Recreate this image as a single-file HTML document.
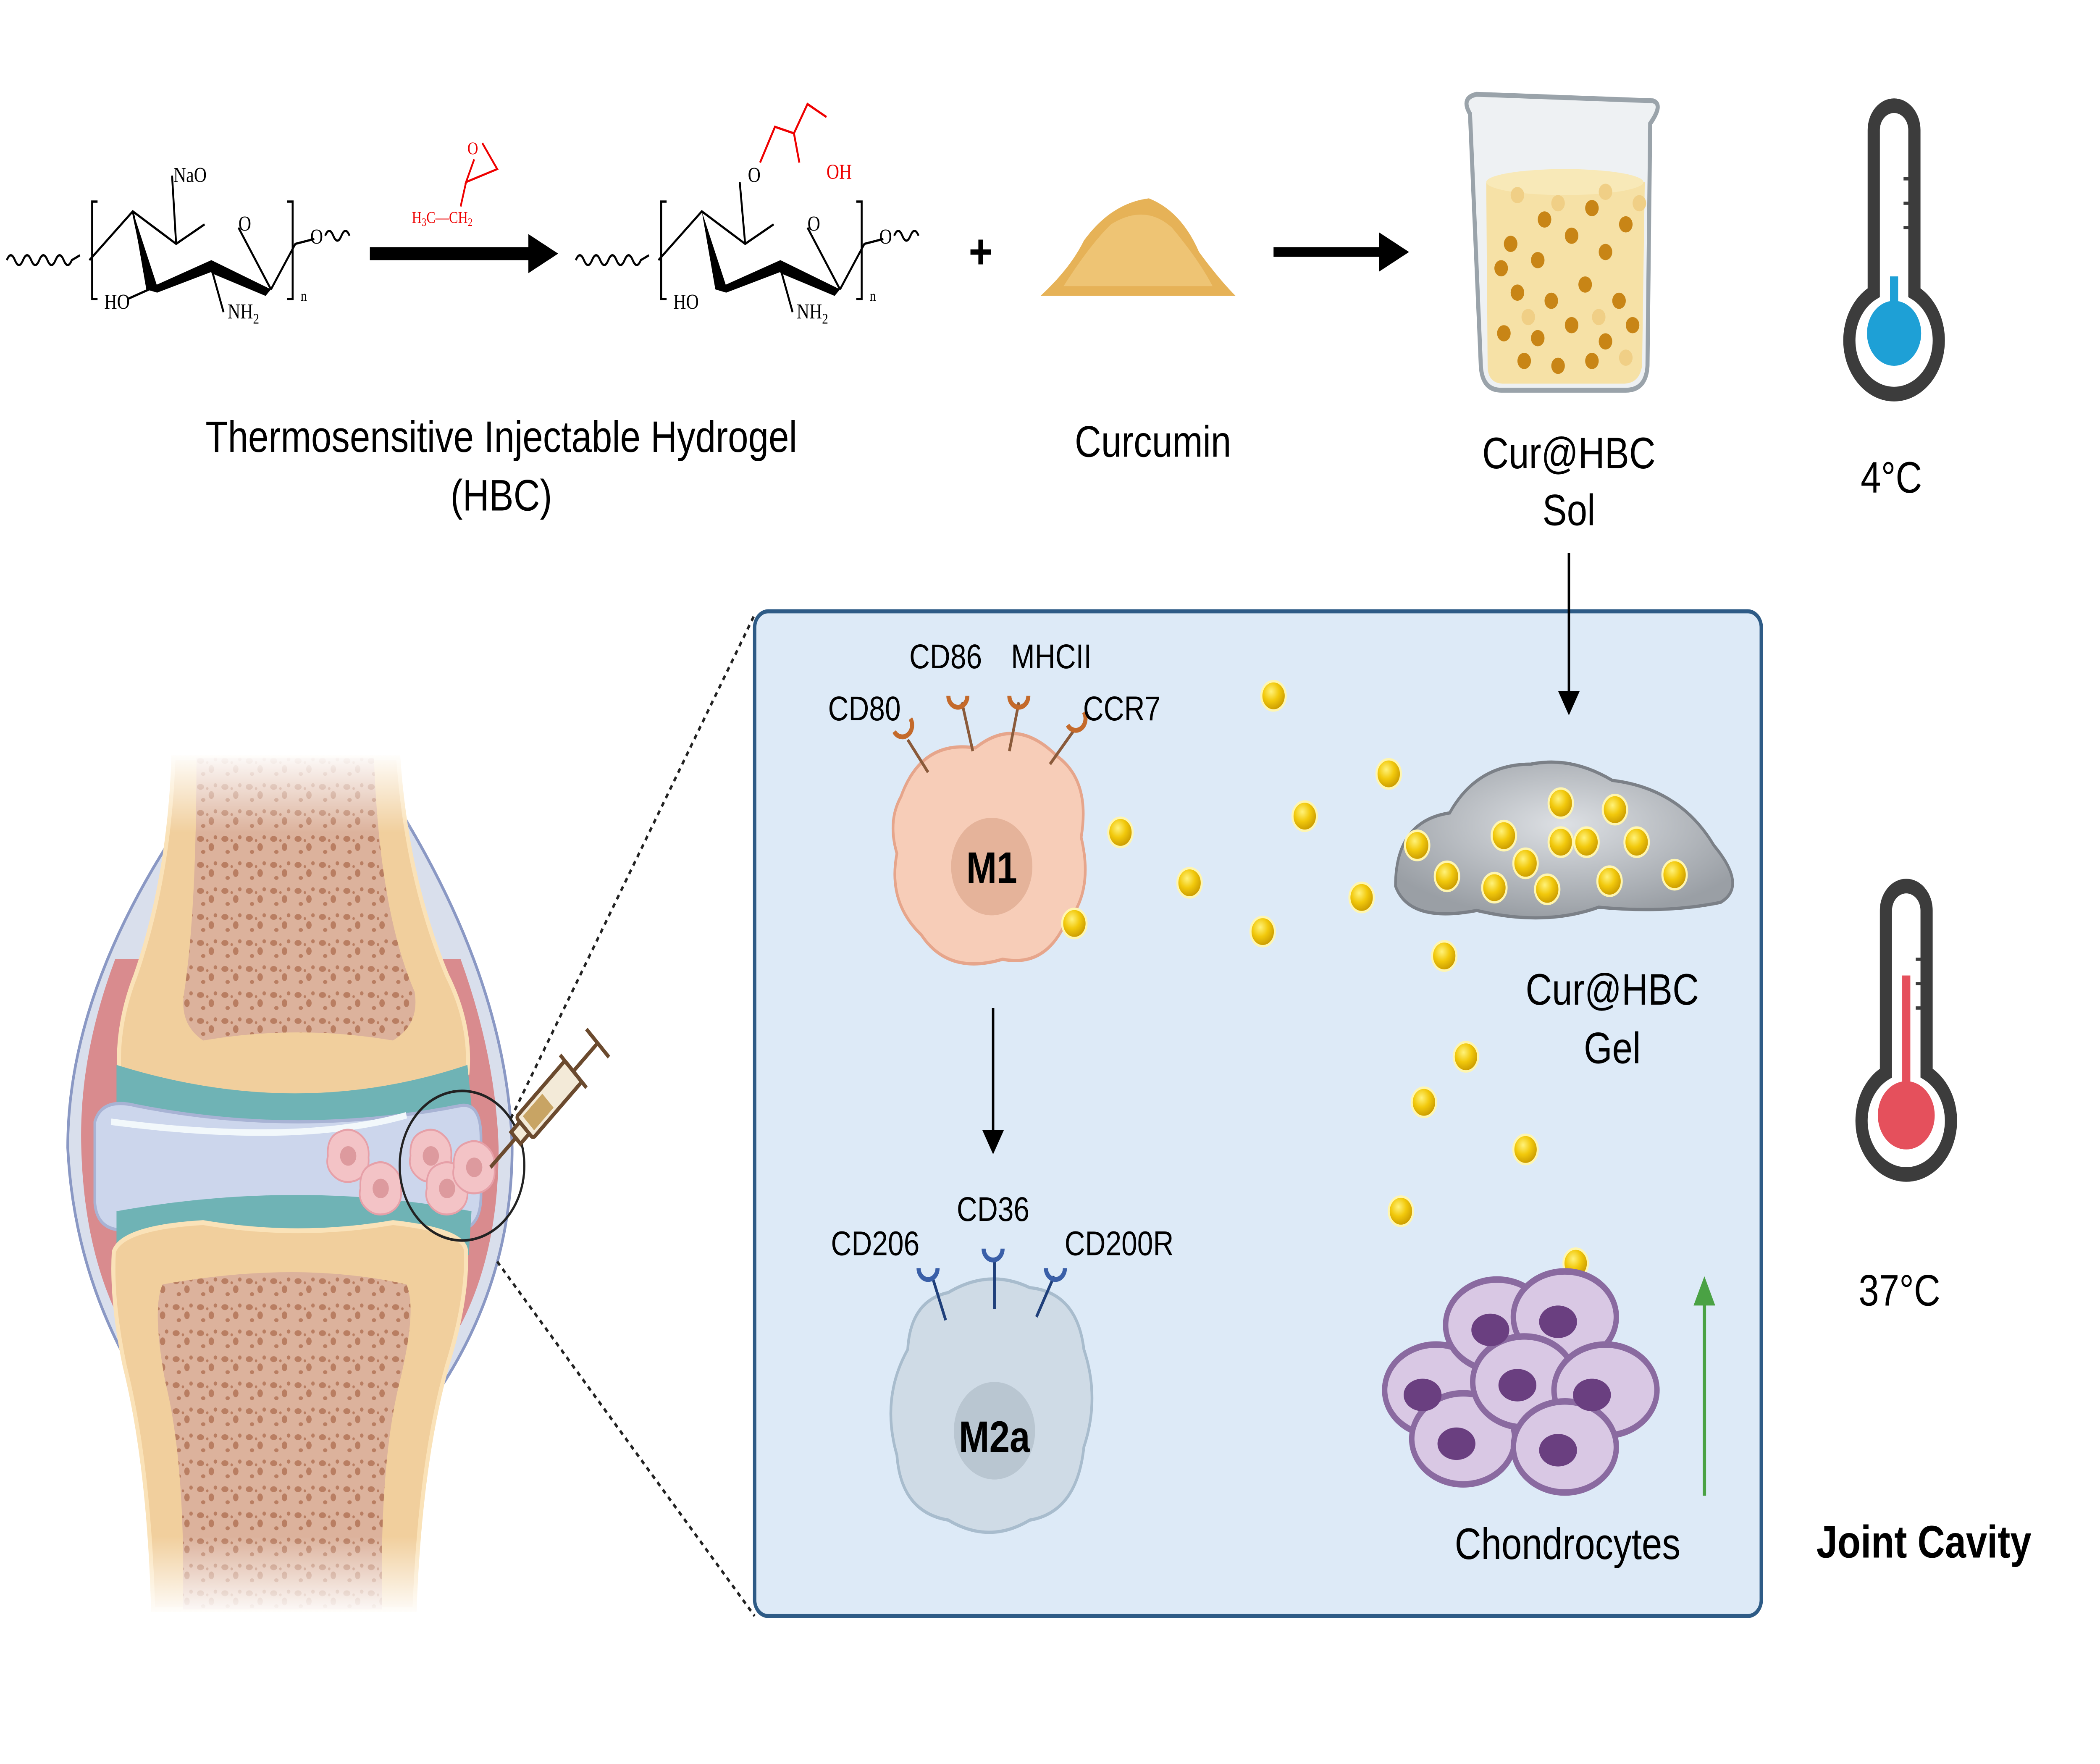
<!DOCTYPE html>
<html><head><meta charset="utf-8"><style>
html,body{margin:0;padding:0;background:#fff;width:100%;height:100%;overflow:hidden;}
svg{display:block;position:absolute;left:0;top:0;width:100vw;height:100vh;}
text{font-family:"Liberation Sans",sans-serif;}
.ser{font-family:"Liberation Serif",serif;}
</style></head><body>
<svg viewBox="0 0 1550 1085" preserveAspectRatio="none" xmlns="http://www.w3.org/2000/svg">
<defs>
<radialGradient id="ball" cx="40%" cy="35%" r="65%"><stop offset="0" stop-color="#fff27a"/><stop offset="0.5" stop-color="#f2c90c"/><stop offset="1" stop-color="#c99a00"/></radialGradient>
<radialGradient id="gel" cx="50%" cy="40%" r="60%"><stop offset="0" stop-color="#dde0e4"/><stop offset="1" stop-color="#9a9fa5"/></radialGradient>
<linearGradient id="fadeT" x1="0" y1="0" x2="0" y2="1"><stop offset="0" stop-color="#fff" stop-opacity="1"/><stop offset="1" stop-color="#fff" stop-opacity="0"/></linearGradient>
<linearGradient id="fadeB" x1="0" y1="0" x2="0" y2="1"><stop offset="0" stop-color="#fff" stop-opacity="0"/><stop offset="1" stop-color="#fff" stop-opacity="1"/></linearGradient>
<pattern id="bone" width="18" height="16" patternUnits="userSpaceOnUse"><rect width="18" height="16" fill="#dcb29c"/><ellipse cx="4" cy="4" rx="2.6" ry="1.8" fill="#b97e62"/><ellipse cx="12" cy="9" rx="2" ry="2.4" fill="#b97e62"/><ellipse cx="6" cy="12" rx="1.6" ry="1.2" fill="#b97e62"/><circle cx="15" cy="3" r="1.3" fill="#b97e62"/><circle cx="9" cy="5" r="0.9" fill="#b97e62"/></pattern>
<g id="bb"><circle r="9" fill="url(#ball)" stroke="#fff6b0" stroke-width="1.5"/></g>
<g id="ic"><path d="M-15,0 Q-16,-12 -6,-15 Q2,-18 9,-13 Q16,-8 15,1 Q16,11 6,15 Q-4,18 -11,12 Q-17,7 -15,0Z" fill="#f3c3c6" stroke="#e6a0a8" stroke-width="1.2"/><circle r="6" fill="#dd9a9e"/></g>
</defs>

<!-- Molecule 1 -->
<g stroke="#000" stroke-width="1.4" fill="none">
<path d="M5,160 q3,-6 6,0 q3,6 6,0 q3,-6 6,0 q3,6 6,0 q3,-6 6,0 q3,6 6,0 q3,-6 6,0 q3,6 6,0 l6,-3"/>
<path d="M72,124 h-4 v60 h4"/><path d="M212,124 h4 v60 h-4"/>
<path d="M66,160 L98,130 L130,150 L151,138"/><path d="M130,150 L127,108"/>
<path d="M176,140 L200,178"/><path d="M200,178 L218,150 L232,147"/>
<path d="M98,130 L110,178 L94,184"/><path d="M156,165 L165,192"/>
</g>
<path d="M98,130 L116,176 L108,178 Z" fill="#000"/>
<path d="M108,178 L156,160 L160,166 L116,180 Z" fill="#000"/>
<path d="M156,160 L200,178 L196,182 L156,168 Z" fill="#000"/>
<text class="ser" x="128" y="112" font-size="13">NaO</text>
<text class="ser" x="176" y="142" font-size="13">O</text>
<text class="ser" x="77" y="190" font-size="13">HO</text>
<text class="ser" x="168" y="196" font-size="13">NH<tspan font-size="9" dy="3">2</tspan></text>
<text class="ser" x="222" y="185" font-size="9">n</text>
<text class="ser" x="229" y="150" font-size="13">O</text>
<path d="M240,145 q3,-6 6,0 q3,6 6,0 q3,-6 6,0" stroke="#000" stroke-width="1.4" fill="none"/>

<!-- epoxide -->
<g stroke="#e00" stroke-width="1.3" fill="none"><path d="M350,98 L344,112 L367,104 L356,88"/><path d="M344,112 L340,127"/></g>
<text class="ser" x="345" y="95" font-size="11" fill="#e00">O</text>
<text class="ser" x="304" y="137" font-size="10" fill="#e00">H<tspan font-size="7" dy="2">3</tspan><tspan dy="-2">C—CH</tspan><tspan font-size="7" dy="2">2</tspan></text>
<path d="M273,152 H390 V144 L412,156 L390,168 V160 H273 Z" fill="#000"/>

<!-- Molecule 2 -->
<g transform="translate(420,0)">
<g stroke="#000" stroke-width="1.4" fill="none">
<path d="M5,160 q3,-6 6,0 q3,6 6,0 q3,-6 6,0 q3,6 6,0 q3,-6 6,0 q3,6 6,0 q3,-6 6,0 q3,6 6,0 l6,-3"/>
<path d="M72,124 h-4 v60 h4"/><path d="M212,124 h4 v60 h-4"/>
<path d="M66,160 L98,130 L130,150 L151,138"/><path d="M130,150 L126,112"/>
<path d="M176,140 L200,178"/><path d="M200,178 L218,150 L232,147"/>
<path d="M156,165 L165,192"/>
</g>
<path d="M98,130 L116,176 L108,178 Z" fill="#000"/>
<path d="M108,178 L156,160 L160,166 L116,180 Z" fill="#000"/>
<path d="M156,160 L200,178 L196,182 L156,168 Z" fill="#000"/>
<g stroke="#e00" stroke-width="1.4" fill="none"><path d="M141,100 L152,78 L166,82 L176,64 L190,72"/><path d="M166,82 L170,100"/></g>
<text class="ser" x="132" y="112" font-size="13">O</text>
<text class="ser" x="190" y="110" font-size="13" fill="#e00">OH</text>
<text class="ser" x="176" y="142" font-size="13">O</text>
<text class="ser" x="77" y="190" font-size="13">HO</text>
<text class="ser" x="168" y="196" font-size="13">NH<tspan font-size="9" dy="3">2</tspan></text>
<text class="ser" x="222" y="185" font-size="9">n</text>
<text class="ser" x="229" y="150" font-size="13">O</text>
<path d="M240,145 q3,-6 6,0 q3,6 6,0 q3,-6 6,0" stroke="#000" stroke-width="1.4" fill="none"/>
</g>

<text x="715" y="165" font-size="30" font-weight="bold">+</text>
<path d="M768,182 Q790,165 800,148 Q820,125 848,122 Q872,130 885,155 Q900,172 912,182 Z" fill="#e6b257"/>
<path d="M785,176 Q805,150 820,138 Q845,125 865,140 Q885,160 895,176 Z" fill="#eec474"/>
<path d="M940,152 H1018 V143 L1040,155 L1018,167 V158 H940 Z" fill="#000"/>

<!-- beaker -->
<path d="M1085,70 Q1078,60 1090,58 L1220,62 Q1228,64 1218,76 L1216,225 Q1215,240 1200,240 L1108,240 Q1094,240 1093,225 Z" fill="#eef1f3" stroke="#9aa3aa" stroke-width="3"/>
<path d="M1097,112 L1214,112 L1212,225 Q1210,236 1198,236 L1110,236 Q1098,236 1098,225 Z" fill="#f6e1a6"/>
<ellipse cx="1155" cy="112" rx="58" ry="8" fill="#f8e9b8"/>
<g fill="#c88516">
<circle cx="1115" cy="150" r="5"/><circle cx="1135" cy="160" r="5"/><circle cx="1160" cy="145" r="5"/><circle cx="1185" cy="155" r="5"/><circle cx="1200" cy="138" r="5"/><circle cx="1120" cy="180" r="5"/><circle cx="1145" cy="185" r="5"/><circle cx="1170" cy="175" r="5"/><circle cx="1195" cy="185" r="5"/><circle cx="1110" cy="205" r="5"/><circle cx="1135" cy="208" r="5"/><circle cx="1160" cy="200" r="5"/><circle cx="1185" cy="210" r="5"/><circle cx="1205" cy="200" r="5"/><circle cx="1125" cy="222" r="5"/><circle cx="1150" cy="225" r="5"/><circle cx="1175" cy="222" r="5"/><circle cx="1140" cy="135" r="5"/><circle cx="1175" cy="128" r="5"/><circle cx="1108" cy="165" r="5"/></g>
<g fill="#f0cf86"><circle cx="1120" cy="120" r="5"/><circle cx="1150" cy="125" r="5"/><circle cx="1185" cy="118" r="5"/><circle cx="1210" cy="125" r="5"/><circle cx="1128" cy="195" r="5"/><circle cx="1180" cy="195" r="5"/><circle cx="1200" cy="220" r="5"/></g>

<!-- thermometers -->
<g fill="none" stroke="#3c3c3c" stroke-width="9">
<path d="M1383,180 V80 a15,15 0 0 1 30,0 V180 a33,33 0 1 1 -30,0 Z"/>
<path d="M1392,660 V560 a15,15 0 0 1 30,0 V660 a33,33 0 1 1 -30,0 Z"/>
</g>
<g stroke="#3c3c3c" stroke-width="2"><path d="M1405,110h8M1405,125h8M1405,140h8"/><path d="M1414,590h8M1414,605h8M1414,620h8"/></g>
<path d="M1395,185 v-15 h6 v15 Z" fill="#1ea0d6"/><circle cx="1398" cy="205" r="20" fill="#1ea0d6"/>
<rect x="1404" y="600" width="6" height="80" fill="#e5505c"/><circle cx="1407" cy="686" r="21" fill="#e5505c"/>

<text x="370" y="278" font-size="27" text-anchor="middle">Thermosensitive Injectable Hydrogel</text>
<text x="370" y="314" font-size="27" text-anchor="middle">(HBC)</text>
<text x="851" y="281" font-size="27" text-anchor="middle">Curcumin</text>
<text x="1158" y="288" font-size="27" text-anchor="middle">Cur@HBC</text>
<text x="1158" y="323" font-size="27" text-anchor="middle">Sol</text>
<text x="1396" y="303" font-size="27" text-anchor="middle">4°C</text>
<text x="1402" y="803" font-size="27" text-anchor="middle">37°C</text>
<text x="1420" y="958" font-size="28" font-weight="bold" text-anchor="middle">Joint Cavity</text>

<!-- panel -->
<rect x="557" y="376" width="743" height="618" rx="10" fill="#ddeaf7" stroke="#2e5b86" stroke-width="2.5"/>
<path d="M1158,340 V430" stroke="#000" stroke-width="1.8"/><path d="M1150,425 L1158,440 L1166,425 Z" fill="#000"/>
<path d="M733,620 V700" stroke="#000" stroke-width="1.8"/><path d="M725,695 L733,710 L741,695 Z" fill="#000"/>
<path d="M1258,920 V800" stroke="#4aa244" stroke-width="2.5"/><path d="M1250,803 L1258,785 L1266,803 Z" fill="#4aa244"/>

<!-- M1 -->
<path d="M665,490 Q680,455 720,460 Q750,440 780,465 Q805,480 798,515 Q808,550 785,570 Q770,595 740,590 Q700,600 680,575 Q655,555 662,525 Q655,505 665,490 Z" fill="#f7cdb8" stroke="#e6a58b" stroke-width="2"/>
<circle cx="732" cy="533" r="30" fill="#e5b39a"/>
<text x="732" y="543" font-size="27" font-weight="bold" text-anchor="middle">M1</text>
<g stroke="#8a5a3a" stroke-width="2" fill="none"><path d="M685,475 L670,455"/><path d="M718,462 L710,432"/><path d="M745,462 L752,432"/><path d="M775,470 L792,450"/></g>
<g stroke="#c46a2b" stroke-width="3" fill="none"><path d="M660,450 a7,7 0 0 0 12,-8"/><path d="M700,428 a7,7 0 0 0 14,0"/><path d="M745,428 a7,7 0 0 0 14,0"/><path d="M788,446 a7,7 0 0 0 12,-8"/></g>
<text x="638" y="443" font-size="21" text-anchor="middle">CD80</text>
<text x="698" y="411" font-size="21" text-anchor="middle">CD86</text>
<text x="776" y="411" font-size="21" text-anchor="middle">MHCII</text>
<text x="828" y="443" font-size="21" text-anchor="middle">CCR7</text>

<!-- M2a -->
<path d="M670,830 Q672,800 700,795 Q730,780 760,792 Q795,795 800,830 Q812,860 800,890 Q795,930 760,935 Q730,950 700,935 Q665,930 662,895 Q650,860 670,830 Z" fill="#cfdbe6" stroke="#a8bccd" stroke-width="2"/>
<circle cx="734" cy="880" r="30" fill="#b9c6d1"/>
<text x="734" y="893" font-size="27" font-weight="bold" text-anchor="middle">M2a</text>
<g stroke="#1f3f7a" stroke-width="2" fill="none"><path d="M698,812 L688,785"/><path d="M734,805 L734,775"/><path d="M765,810 L778,785"/></g>
<g stroke="#3a5fa8" stroke-width="3" fill="none"><path d="M678,780 a7,7 0 0 0 14,0"/><path d="M726,768 a7,7 0 0 0 14,0"/><path d="M772,780 a7,7 0 0 0 14,0"/></g>
<text x="646" y="772" font-size="21" text-anchor="middle">CD206</text>
<text x="733" y="751" font-size="21" text-anchor="middle">CD36</text>
<text x="826" y="772" font-size="21" text-anchor="middle">CD200R</text>

<!-- gel -->
<path d="M1030,545 Q1030,505 1070,500 Q1090,470 1130,470 Q1160,465 1190,480 Q1240,485 1265,520 Q1290,545 1270,555 Q1230,562 1180,558 Q1140,570 1090,560 Q1040,568 1030,545 Z" fill="url(#gel)" stroke="#7b8087" stroke-width="2"/>
<text x="1190" y="618" font-size="27" text-anchor="middle">Cur@HBC</text>
<text x="1190" y="654" font-size="27" text-anchor="middle">Gel</text>

<g>
<use href="#bb" x="940" y="428"/>
<use href="#bb" x="827" y="512"/><use href="#bb" x="878" y="543"/><use href="#bb" x="932" y="573"/><use href="#bb" x="963" y="502"/><use href="#bb" x="793" y="568"/>
<use href="#bb" x="1025" y="476"/><use href="#bb" x="1005" y="552"/><use href="#bb" x="1066" y="588"/>
<use href="#bb" x="1046" y="520"/><use href="#bb" x="1068" y="539"/><use href="#bb" x="1103" y="546"/><use href="#bb" x="1110" y="514"/><use href="#bb" x="1126" y="531"/><use href="#bb" x="1142" y="547"/><use href="#bb" x="1152" y="518"/><use href="#bb" x="1152" y="494"/><use href="#bb" x="1171" y="518"/><use href="#bb" x="1188" y="542"/><use href="#bb" x="1192" y="498"/><use href="#bb" x="1208" y="518"/><use href="#bb" x="1236" y="538"/>
<use href="#bb" x="1082" y="650"/><use href="#bb" x="1051" y="678"/><use href="#bb" x="1126" y="707"/><use href="#bb" x="1034" y="745"/><use href="#bb" x="1163" y="777"/>
</g>

<!-- chondrocytes -->
<g stroke="#8a6aa0" stroke-width="4" fill="#d9c8e4">
<ellipse cx="1060" cy="855" rx="38" ry="28"/><ellipse cx="1105" cy="815" rx="38" ry="28"/><ellipse cx="1155" cy="810" rx="38" ry="28"/>
<ellipse cx="1080" cy="885" rx="38" ry="28"/><ellipse cx="1125" cy="850" rx="38" ry="28"/><ellipse cx="1185" cy="855" rx="38" ry="28"/>
<ellipse cx="1155" cy="890" rx="38" ry="28"/>
</g>
<g fill="#6a3f80"><ellipse cx="1050" cy="858" rx="14" ry="10"/><ellipse cx="1100" cy="818" rx="14" ry="10"/><ellipse cx="1150" cy="813" rx="14" ry="10"/><ellipse cx="1075" cy="888" rx="14" ry="10"/><ellipse cx="1120" cy="852" rx="14" ry="10"/><ellipse cx="1175" cy="858" rx="14" ry="10"/><ellipse cx="1150" cy="892" rx="14" ry="10"/></g>
<text x="1157" y="959" font-size="27" text-anchor="middle">Chondrocytes</text>

<!-- knee -->
<path d="M135,505 Q50,610 50,706 Q55,790 110,860 L320,860 Q378,790 378,706 Q375,610 300,505 Z" fill="#d9dfec" stroke="#8a98c4" stroke-width="2"/>
<path d="M85,590 Q58,650 60,706 Q62,770 90,815 L340,815 Q368,770 368,706 Q366,650 340,590 Z" fill="#d98b8e"/>
<path d="M128,466 L294,466 Q300,540 330,600 Q348,630 345,660 Q300,680 220,676 Q130,680 88,660 Q86,630 100,600 Q125,540 128,466 Z" fill="#f1cf9d" stroke="#fae2b8" stroke-width="3"/>
<path d="M145,466 L276,466 Q280,560 306,610 Q310,630 290,640 Q220,630 150,640 Q132,630 136,610 Q145,560 145,466Z" fill="url(#bone)"/>
<path d="M86,655 Q220,690 345,655 L348,680 Q220,705 86,680 Z" fill="#6fb3b5"/>
<path d="M70,690 Q75,675 100,680 Q220,700 340,680 Q355,678 355,700 L355,735 Q355,760 330,756 Q220,740 100,756 Q72,760 70,740 Z" fill="#ccd6ec" stroke="#a8b3d4" stroke-width="2"/>
<path d="M82,690 Q220,705 300,686" stroke="#f2f8fb" stroke-width="4" fill="none"/>
<path d="M86,745 Q220,725 348,745 L346,772 Q220,752 86,772 Z" fill="#6fb3b5"/>
<path d="M84,770 Q90,755 150,752 Q220,762 290,752 Q344,757 344,770 Q345,800 330,840 Q310,900 306,990 L113,990 Q110,900 92,840 Q82,800 84,770Z" fill="#f1cf9d" stroke="#fae2b8" stroke-width="3"/>
<path d="M120,790 Q220,775 300,790 Q308,805 295,850 Q280,900 282,990 L135,990 Q137,900 122,850 Q112,805 120,790Z" fill="url(#bone)"/>
<rect x="100" y="462" width="220" height="50" fill="url(#fadeT)"/>
<rect x="100" y="945" width="220" height="50" fill="url(#fadeB)"/>
<use href="#ic" x="257" y="711"/><use href="#ic" x="281" y="731"/><use href="#ic" x="318" y="711"/><use href="#ic" x="330" y="731"/><use href="#ic" x="350" y="718"/>
<circle cx="341" cy="717" r="46" fill="none" stroke="#222" stroke-width="1.6"/>
<g transform="rotate(-44 362 718)" stroke="#6b4a2e" stroke-width="2.5" fill="none">
<path d="M362,718 H388"/>
<rect x="388" y="713" width="9" height="10" fill="#f3ead8"/>
<rect x="397" y="709" width="50" height="18" rx="2" fill="#f3ead8"/>
<rect x="401" y="712" width="20" height="12" fill="#c8a464" stroke="none"/>
<path d="M447,704 V732 M447,718 H472 M472,706 V730"/>
</g>
<path d="M377,688 L557,378 M367,776 L557,994" stroke="#222" stroke-width="1.8" stroke-dasharray="3,3"/>
</svg>
</body></html>
